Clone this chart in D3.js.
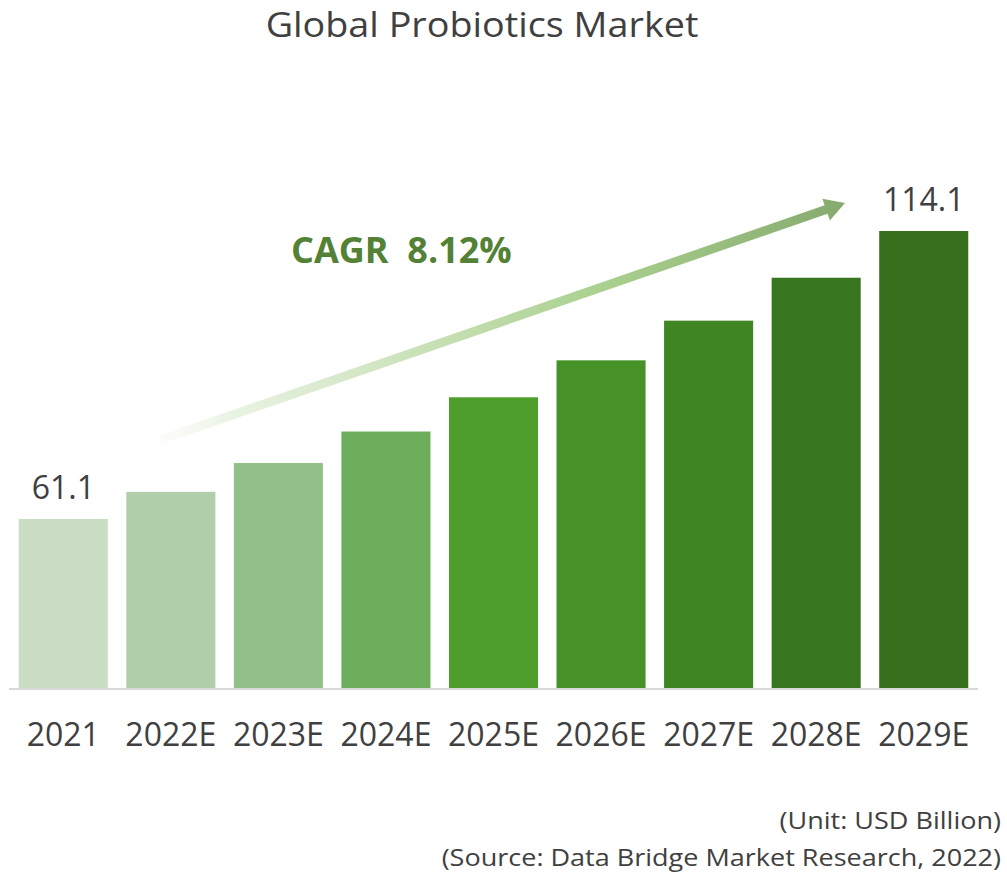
<!DOCTYPE html>
<html lang="en">
<head>
    <meta charset="UTF-8">
    <title>Global Probiotics Market</title>
    <style>
        body { margin: 0; background: #fff; }
        svg text { font-family: "Open Sans", "Noto Sans", sans-serif; fill: #404040; }
        .title { font-size: 34px; }
        .tick-label { font-size: 32px; }
        .value-label { font-size: 32px; }
        .note { font-size: 23.5px; }
        .cagr { font-size: 36px; font-weight: 700; fill: #538135; }
    </style>
</head>
<body>
<script src="https://d3js.org/d3.v7.min.js"></script>
<script>
    const years = ['2021', '2022E', '2023E', '2024E', '2025E', '2026E', '2027E', '2028E', '2029E'];
    const values = [61.1, 66.1, 71.4, 77.2, 83.5, 90.3, 97.6, 105.5, 114.1];
    const barColors = ['#c9dcc4', '#b0cea9', '#93c088', '#6bad5a', '#4e9e2c', '#469228', '#3f8524', '#38751f', '#38701e'];
    const labelled = ['2021', '2029E'];
    const cagrText = 'CAGR\u00a0\u00a08.12%';

    const width = 1007;
    const height = 877;
    const baseline = 688;

    const svg = d3.select('body').append('svg')
        .attr('width', width)
        .attr('height', height);

    const x = d3.scaleBand()
        .domain(years)
        .range([9.5, 977.5])
        .paddingInner(0.172)
        .paddingOuter(0.086);

    // axis does not start at zero in the original
    const y = d3.scaleLinear()
        .domain([30, 114.1])
        .range([baseline, 231]);

    // the original's text looks a bit stretched sideways
    function stretchedText(cls, tx, ty, sx, anchor, str) {
        return svg.append('text')
            .attr('class', cls)
            .attr('transform', `translate(${tx},${ty}) scale(${sx},1)`)
            .attr('text-anchor', anchor)
            .text(str);
    }

    stretchedText('title', 482, 37, 1.11, 'middle', 'Global Probiotics Market');

    // gradient arrow
    const defs = svg.append('defs');
    const grad = defs.append('linearGradient')
        .attr('id', 'arrowGrad')
        .attr('gradientUnits', 'userSpaceOnUse')
        .attr('x1', 160).attr('y1', 440)
        .attr('x2', 845).attr('y2', 203);
    grad.append('stop').attr('offset', '0%').attr('stop-color', '#f4f8f1').attr('stop-opacity', 0.3);
    grad.append('stop').attr('offset', '10%').attr('stop-color', '#eaf3e4');
    grad.append('stop').attr('offset', '65%').attr('stop-color', '#a9d08e');
    grad.append('stop').attr('offset', '100%').attr('stop-color', '#86aa6e');

    const ax0 = 160, ay0 = 440, ax1 = 845, ay1 = 203;
    const ang = Math.atan2(ay1 - ay0, ax1 - ax0);
    const len = Math.hypot(ax1 - ax0, ay1 - ay0);
    const shaftW = 9, headL = 20, headW = 23;
    const arrowPts = [
        [0, -shaftW / 2], [len - headL, -shaftW / 2], [len - headL, -headW / 2],
        [len, 0],
        [len - headL, headW / 2], [len - headL, shaftW / 2], [0, shaftW / 2]
    ].map(([u, v]) => [
        ax0 + u * Math.cos(ang) - v * Math.sin(ang),
        ay0 + u * Math.sin(ang) + v * Math.cos(ang)
    ]);
    svg.append('path')
        .attr('d', d3.line()(arrowPts) + 'Z')
        .attr('fill', 'url(#arrowGrad)');

    svg.append('text')
        .attr('class', 'cagr')
        .attr('x', 291)
        .attr('y', 263)
        .text(cagrText);

    svg.selectAll('rect.bar')
        .data(years)
        .join('rect')
        .attr('class', 'bar')
        .attr('x', d => x(d))
        .attr('y', (d, i) => y(values[i]))
        .attr('width', x.bandwidth())
        .attr('height', (d, i) => baseline - y(values[i]))
        .attr('fill', (d, i) => barColors[i]);

    svg.append('line')
        .attr('x1', 9).attr('x2', 978)
        .attr('y1', baseline + 1).attr('y2', baseline + 1)
        .attr('stroke', '#d9d9d9')
        .attr('stroke-width', 2);

    const xAxis = svg.append('g')
        .attr('transform', `translate(0,${baseline})`)
        .call(d3.axisBottom(x).tickSize(0).tickPadding(0));
    xAxis.select('.domain').remove();
    xAxis.selectAll('text')
        .attr('class', 'tick-label')
        .attr('dy', null)
        .attr('y', 58)
        .attr('fill', null);

    svg.selectAll('text.value-label')
        .data(years.filter(d => labelled.includes(d)))
        .join('text')
        .attr('class', 'value-label')
        .attr('x', d => x(d) + x.bandwidth() / 2)
        .attr('y', d => y(values[years.indexOf(d)]) - 20)
        .attr('text-anchor', 'middle')
        .text(d => values[years.indexOf(d)].toFixed(1));

    stretchedText('note', 1001, 829, 1.15, 'end', '(Unit: USD Billion)');
    stretchedText('note', 1001, 866, 1.15, 'end', '(Source: Data Bridge Market Research, 2022)');
</script>
</body>
</html>
